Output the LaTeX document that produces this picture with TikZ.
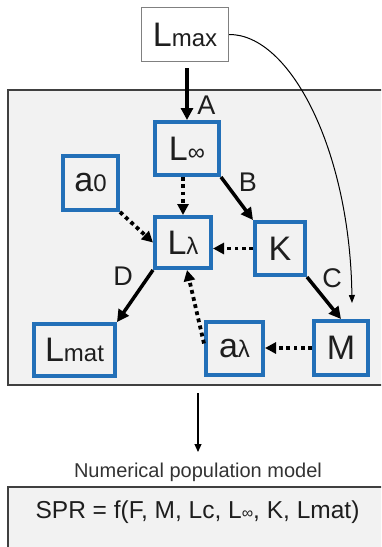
\documentclass[tikz,border=0pt]{standalone}
\usepackage{fontspec}
\setmainfont{Liberation Sans}
\usetikzlibrary{arrows.meta}
\definecolor{boxblue}{HTML}{2370B8}
\definecolor{panelgray}{HTML}{F2F2F2}
\definecolor{inkgray}{HTML}{1E1E1E}
\newcommand{\bigtxt}{\fontsize{34}{34}\selectfont}
\newcommand{\subtxt}[1]{{\fontsize{24}{24}\selectfont #1}}
\newcommand{\smallinf}[1]{{\fontsize{16}{16}\selectfont #1}}
\begin{document}
\begin{tikzpicture}[x=1pt,y=-1pt,
  blk/.style={draw=boxblue, line width=4pt, fill=panelgray, inner sep=0pt, font=\bigtxt, text=inkgray},
  topbox/.style={draw=black!50, line width=1.2pt, fill=white, inner sep=0pt, font=\bigtxt, text=inkgray},
  solidarr/.style={line width=3.5pt, draw=black, -{Triangle[length=12pt,width=12pt]}},
  dotarr/.style={line width=3.8pt, draw=black, dash pattern=on 3.8pt off 3.5pt, -{Triangle[length=11pt,width=11pt]}},
  lbl/.style={font=\fontsize{27}{27}\selectfont, text=inkgray, inner sep=0pt},
  panel/.style={fill=panelgray, draw=black!75, line width=1.5pt}
]
\useasboundingbox (0,0) rectangle (381,547);
\clip (0,0) rectangle (381,547);

% panels
\draw[panel] (8,90) rectangle (398,385);
\draw[panel] (8,487) rectangle (398,570);

% boxes
\node[topbox, minimum width=87, minimum height=54] (Lmax) at (185,34.5) {L\subtxt{max}};
\node[blk, minimum width=64, minimum height=53] (Linf) at (187,148.5) {L\subtxt{∞}};
\node[blk, minimum width=55, minimum height=54] (a0) at (90.5,183) {a\subtxt{0}};
\node[blk, minimum width=56, minimum height=51] (Ll) at (183,242.5) {L\subtxt{λ}};
\node[blk, minimum width=50, minimum height=53] (K) at (280,248.5) {K};
\node[blk, minimum width=81, minimum height=52] (Lmat) at (74.5,350) {L\subtxt{mat}};
\node[blk, minimum width=57, minimum height=53] (al) at (234.5,348.5) {a\subtxt{λ}};
\node[blk, minimum width=54, minimum height=54] (M) at (341,348) {M};

% labels
\node[lbl] (labA) at (206.5,105) {A};
\node[lbl] (labB) at (248,182) {B};
\node[lbl] (labC) at (332,278) {C};
\node[lbl] (labD) at (123,276) {D};

% solid arrows
\draw[solidarr] ([yshift=-6pt]Lmax.south -| Linf.north) -- (Linf.north);
\draw[solidarr] (Linf.south east) -- (K.north west);
\draw[solidarr] (K.south east) -- (M.north);
\draw[solidarr] (Ll.south west) -- (Lmat.north east);

% dotted arrows
\draw[dotarr] (Linf.south -| Ll.north) -- (Ll.north);
\draw[dotarr] (a0.south east) -- (Ll.west);
\draw[dotarr] (K.west) -- (K.west -| Ll.east);
\draw[dotarr] (M.west) -- (M.west -| al.east);
\draw[dotarr] ([yshift=5pt]al.west) -- ([xshift=4pt]Ll.south);

% curved arrow
\coordinate (curveEnd) at (352,303);
\draw[line width=1pt, draw=black, -{Triangle[length=8pt,width=6pt]}] (Lmax.east) .. controls (290,34) and (350,150) .. (curveEnd);

% bottom
\node[font=\fontsize{20}{20}\selectfont, text=black!80, inner sep=0pt] (numlab) at (198,472) {Numerical population model};
\coordinate (arrS) at (198,393);
\coordinate (arrE) at (198,452);
\draw[line width=1.2pt, draw=black, -{Triangle[length=8pt,width=7pt]}] (arrS) -- (arrE);
\node[font=\fontsize{24.5}{24.5}\selectfont, text=inkgray, inner sep=0pt] (spr) at (197.5,512) {SPR = f(F, M, Lc, L\smallinf{∞}, K, Lmat)};
\end{tikzpicture}
\end{document}
